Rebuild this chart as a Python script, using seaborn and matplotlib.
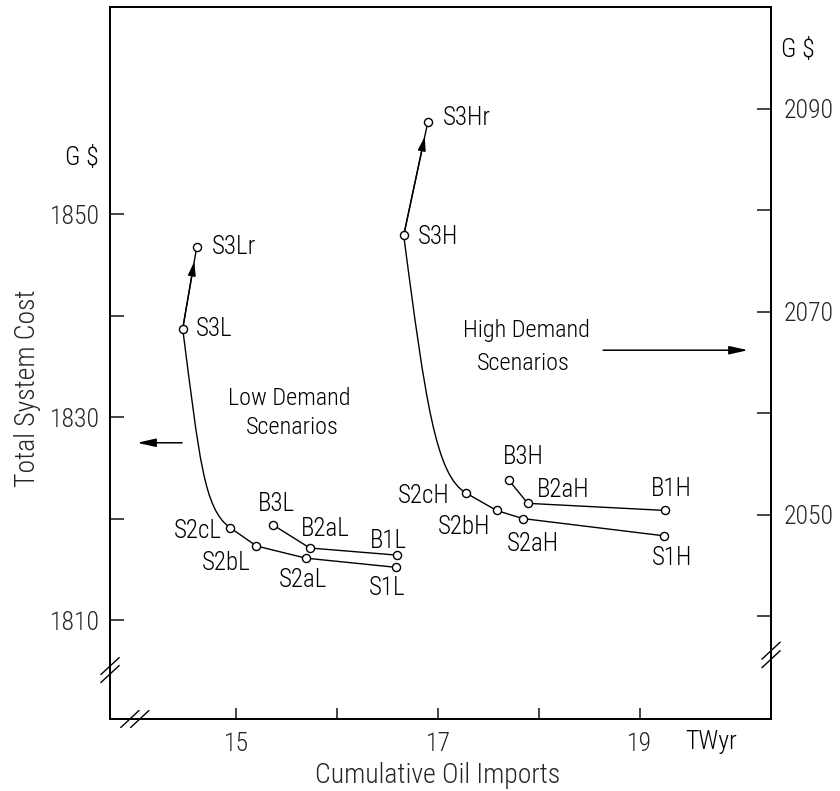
import matplotlib
matplotlib.use('Agg')
import matplotlib.pyplot as plt
from matplotlib import font_manager
from matplotlib.path import Path
from matplotlib.patches import PathPatch
import matplotlib.transforms as mtransforms
import seaborn as sns

# ---------------- data ----------------
low_s_labels = ['S3Lr', 'S3L', 'S2cL', 'S2bL', 'S2aL', 'S1L']
low_s_imports = [14.61, 14.47, 14.94, 15.20, 15.69, 16.58]
low_s_cost = [1846.8, 1838.7, 1819.1, 1817.3, 1816.1, 1815.2]

low_b_labels = ['B3L', 'B2aL', 'B1L']
low_b_imports = [15.36, 15.73, 16.59]
low_b_cost = [1819.4, 1817.1, 1816.4]

high_s_labels = ['S3Hr', 'S3H', 'S2cH', 'S2bH', 'S2aH', 'S1H']
high_s_imports = [16.90, 16.66, 17.28, 17.58, 17.84, 19.24]
high_s_cost = [2088.7, 2077.5, 2052.1, 2050.4, 2049.6, 2047.9]

high_b_labels = ['B3H', 'B2aH', 'B1H']
high_b_imports = [17.70, 17.89, 19.25]
high_b_cost = [2053.4, 2051.1, 2050.4]

x_ticks = [15, 17, 19]
x_minor = [16, 18]
left_ticks = [1810, 1830, 1850]
left_minor = [1820, 1840]
right_ticks = [2050, 2070, 2090]
right_minor = [2040, 2060, 2080]

# ---------------- style ----------------
sns.set_theme(style='white')
names = {f.name for f in font_manager.fontManager.ttflist}
FONT = None
SC = 1.0
for cand in ['Liberation Sans Narrow', 'Roboto Condensed', 'Open Sans Condensed']:
    if cand in names:
        FONT = cand
        break
if FONT is None:
    cond = [f for f in font_manager.fontManager.ttflist
            if f.name == 'DejaVu Sans' and 'Condensed' in f.fname
            and 'Bold' not in f.fname and 'Oblique' not in f.fname]
    if cond:
        FONT = 'DejaVu Sans'
        plt.rcParams['font.stretch'] = 'condensed'
        SC = 0.92
    else:
        FONT = 'Liberation Sans'
        SC = 0.85
plt.rcParams['font.family'] = [FONT, 'DejaVu Sans']
plt.rcParams['font.weight'] = 'light'
plt.rcParams['axes.labelweight'] = 'light'
plt.rcParams['text.color'] = 'black'

FS_TICK = 18.5 * SC
FS_PT = 18 * SC
FS_TXT = 17.5 * SC
FS_AX = 20 * SC
LW = 1.0

fig = plt.figure(figsize=(8.4, 7.91), dpi=100)
fig.patch.set_facecolor('white')
ax = fig.add_axes([0.1310, 0.0910, 0.7869, 0.9001])
ax2 = ax.twinx()

ax.set_xlim(13.75, 20.30)
ax.set_ylim(1800.25, 1870.4)
ax2.set_ylim(2029.85, 2100.0)

# label offsets (pixels) and alignment
offsets = {
    'S3Lr': (15, 0, 'left'), 'S3L': (13, 0, 'left'), 'S2cL': (-8, -3, 'right'),
    'S2bL': (-30, -17, 'center'), 'S2aL': (-3, -22, 'center'), 'S1L': (-8, -21, 'center'),
    'B3L': (4, 21, 'center'), 'B2aL': (15, 19, 'center'), 'B1L': (-8, 14, 'center'),
    'S3Hr': (15, 4, 'left'), 'S3H': (14, -2, 'left'), 'S2cH': (-17, -3, 'right'),
    'S2bH': (-32, -17, 'center'), 'S2aH': (10, -25, 'center'), 'S1H': (8, -22, 'center'),
    'B3H': (15, 23, 'center'), 'B2aH': (9, 13, 'left'), 'B1H': (6, 21, 'center'),
}


def draw_points(axis, labels, xs, ys):
    sns.scatterplot(x=xs, y=ys, ax=axis, s=34, color='white',
                    edgecolor='black', linewidth=1.0, zorder=5)
    for lab, x, y in zip(labels, xs, ys):
        dx, dy, ha = offsets[lab]
        axis.annotate(lab, (x, y), xytext=(dx, dy), textcoords='offset pixels',
                      ha=ha, va='center', fontsize=FS_PT)


def draw_s_chain(axis, labels, xs, ys):
    # straight reference segment with arrow
    sns.lineplot(x=xs[0:2], y=ys[0:2], sort=False, estimator=None, ax=axis,
                 color='black', lw=LW)
    axis.annotate('', xy=(xs[0], ys[0]), xytext=(xs[1], ys[1]),
                  arrowprops=dict(arrowstyle='-|>,head_length=0.6,head_width=0.17',
                                  color='black', lw=LW, shrinkA=0, shrinkB=11,
                                  mutation_scale=14))
    # smooth bend between S3 and S2c
    x0, y0 = xs[1], ys[1]
    x3, y3 = xs[2], ys[2]
    xn, yn = xs[3], ys[3]
    p1 = (x0 + 0.35 * (x3 - x0), y0 + 0.65 * (y3 - y0))
    p2 = (x3 - (xn - x3), y3 - (yn - y3))
    path = Path([(x0, y0), p1, p2, (x3, y3)],
                [Path.MOVETO, Path.CURVE4, Path.CURVE4, Path.CURVE4])
    axis.add_patch(PathPatch(path, fill=False, lw=LW, edgecolor='black'))
    sns.lineplot(x=xs[2:], y=ys[2:], sort=False, estimator=None, ax=axis,
                 color='black', lw=LW)
    draw_points(axis, labels, xs, ys)


def draw_b_chain(axis, labels, xs, ys):
    sns.lineplot(x=xs, y=ys, sort=False, estimator=None, ax=axis,
                 color='black', lw=LW)
    draw_points(axis, labels, xs, ys)


draw_s_chain(ax, low_s_labels, low_s_imports, low_s_cost)
draw_b_chain(ax, low_b_labels, low_b_imports, low_b_cost)
draw_s_chain(ax2, high_s_labels, high_s_imports, high_s_cost)
draw_b_chain(ax2, high_b_labels, high_b_imports, high_b_cost)

# ---------------- axes ----------------
ax.set_xticks(x_ticks)
ax.set_xticks(x_minor, minor=True)
ax.set_xticklabels([str(t) for t in x_ticks])
ax.set_yticks(left_ticks)
ax.set_yticks(left_minor, minor=True)
ax.set_yticklabels([str(t) for t in left_ticks])
ax2.set_yticks(right_ticks)
ax2.set_yticks(right_minor, minor=True)
ax2.set_yticklabels([str(t) for t in right_ticks])

ax.tick_params(axis='x', which='both', direction='in', length=8, width=1.2,
               bottom=True, top=False, pad=9, labelsize=FS_TICK)
ax.tick_params(axis='y', which='both', direction='in', length=10, width=1.2,
               left=True, right=False, pad=7, labelsize=FS_TICK)
ax2.tick_params(axis='y', which='both', direction='in', length=10, width=1.2,
                left=False, right=True, pad=9, labelsize=FS_TICK)
ax2.tick_params(axis='x', which='both', bottom=False, top=False)

for a in (ax, ax2):
    for sp in a.spines.values():
        sp.set_visible(True)
        sp.set_color('black')
        sp.set_linewidth(1.3)
    a.grid(False)

ax.set_xlabel('Cumulative Oil Imports', fontsize=FS_AX, fontweight='light')
ax.xaxis.set_label_coords(0.495, -0.060)
ax.set_ylabel('Total System Cost', fontsize=FS_AX, fontweight='light')
ax.yaxis.set_label_coords(-0.104, 0.465)
ax2.set_ylabel('')

# unit labels
ax.text(-0.043, 0.788, 'G $', transform=ax.transAxes, ha='center', va='center',
        fontsize=FS_TICK)
ax.text(1.041, 0.940, 'G $', transform=ax.transAxes, ha='center', va='center',
        fontsize=FS_TICK)
trans = mtransforms.blended_transform_factory(ax.transData, ax.transAxes)
ax.text(19.71, -0.032, 'TWyr', transform=trans, ha='center', va='center',
        fontsize=FS_TICK)

# scenario annotations
ax.text(0.271, 0.450, 'Low Demand', transform=ax.transAxes, ha='center',
        va='center', fontsize=FS_TXT)
ax.text(0.276, 0.410, 'Scenarios', transform=ax.transAxes, ha='center',
        va='center', fontsize=FS_TXT)
ax.text(0.630, 0.545, 'High Demand', transform=ax.transAxes, ha='center',
        va='center', fontsize=FS_TXT)
ax.text(0.625, 0.499, 'Scenarios', transform=ax.transAxes, ha='center',
        va='center', fontsize=FS_TXT)
arrow_kw = dict(arrowstyle='-|>,head_length=0.8,head_width=0.18', color='black',
                lw=1.1, shrinkA=0, shrinkB=0, mutation_scale=14)
ax.annotate('', xy=(0.041, 0.388), xytext=(0.109, 0.388),
            xycoords='axes fraction', arrowprops=arrow_kw)
ax.annotate('', xy=(0.965, 0.518), xytext=(0.746, 0.518),
            xycoords='axes fraction', arrowprops=arrow_kw)


# axis break marks
def slash(cx, cy, w=0.0277, h=0.0239):
    ax.plot([cx - w / 2, cx + w / 2], [cy - h / 2, cy + h / 2],
            transform=ax.transAxes, color='black', lw=1.0, clip_on=False,
            zorder=10)


slash(0.0, 0.0632)
slash(0.0, 0.0744)
slash(0.030, 0.0)
slash(0.045, 0.0)
slash(1.0, 0.084)
slash(1.0, 0.096)

fig.savefig('out.png', dpi=100, facecolor='white')
